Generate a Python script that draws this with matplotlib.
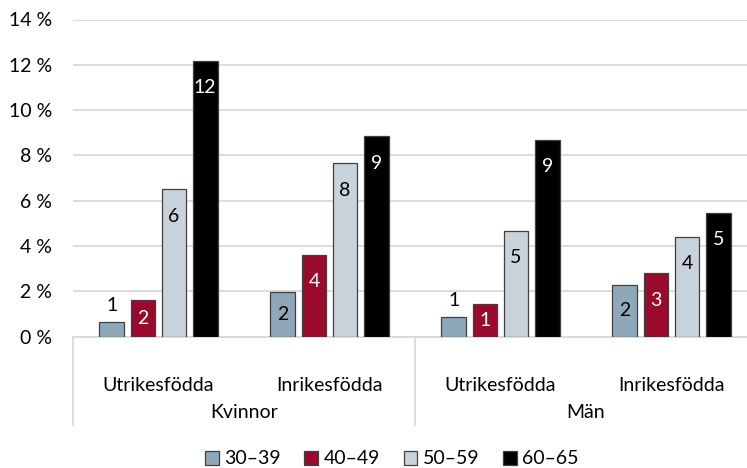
import matplotlib.pyplot as plt
import numpy as np

# ------------------------------------------------
# data
groups = ['Kvinnor', 'Män']
origins = ['Utrikesfödda', 'Inrikesfödda', 'Utrikesfödda', 'Inrikesfödda']
ages = ['30–39', '40–49', '50–59', '60–65']

v_30_39 = [0.65, 1.96, 0.85, 2.26]
v_40_49 = [1.61, 3.60, 1.42, 2.80]
v_50_59 = [6.50, 7.66, 4.67, 4.41]
v_60_65 = [12.18, 8.85, 8.68, 5.47]

lab_30_39 = ['1', '2', '1', '2']
lab_40_49 = ['2', '4', '1', '3']
lab_50_59 = ['6', '8', '5', '4']
lab_60_65 = ['12', '9', '9', '5']

series = [v_30_39, v_40_49, v_50_59, v_60_65]
labels = [lab_30_39, lab_40_49, lab_50_59, lab_60_65]
colors = ['#8FA8B9', '#990A2C', '#C9D3DC', '#000000']
txtcol = ['black', 'white', 'black', 'white']

plt.rcParams['font.family'] = ['Lato', 'DejaVu Sans']
FS = 14

fig = plt.figure(figsize=(7.47, 4.68), dpi=100)
ax = fig.add_axes([73/747, 131.5/468, 684/747, 317/468])

x = np.arange(len(origins))
width = 0.145
step = 0.182
px = 14 / 317.0  # data units per pixel

for i, vals in enumerate(series):
    pos = x + (i - 1.5) * step
    ax.bar(pos, vals, width, color=colors[i], edgecolor='#404040',
           linewidth=0.9, label=ages[i], zorder=3)
    for p, v, t in zip(pos, vals, labels[i]):
        if v < 1.0:
            # label sits above the short bar
            ax.text(p, v + 16.5 * px, t, ha='center', va='center',
                    fontsize=FS, color='black', zorder=4)
        else:
            y = max(v / 2, v - 27 * px)
            ax.text(p, y, t, ha='center', va='center',
                    fontsize=FS, color=txtcol[i], zorder=4)

ax.set_ylim(0, 14)
ax.set_xlim(-0.5, 3.5)
ax.set_yticks(np.arange(0, 15, 2))
ax.set_yticklabels(['{} %'.format(v) for v in range(0, 15, 2)], fontsize=FS)
ax.yaxis.grid(True, color='#D9D9D9', linewidth=1.3, zorder=0)
ax.tick_params(axis='y', length=0, pad=15)

for s in ['left', 'right', 'top']:
    ax.spines[s].set_visible(False)
ax.spines['bottom'].set_color('#D9D9D9')
ax.spines['bottom'].set_linewidth(1.3)

ax.set_xticks(x)
ax.set_xticklabels(origins, fontsize=FS)
ax.tick_params(axis='x', length=0, pad=29)

# category separators and outer labels
for xs in [0.0, 0.5, 1.0]:
    ax.plot([xs, xs], [0, -88.5 / 317], transform=ax.transAxes,
            color='#D9D9D9', linewidth=1.3, clip_on=False)
for j, g in enumerate(groups):
    ax.text(0.25 + 0.5 * j, -76 / 317, g, transform=ax.transAxes,
            ha='center', va='center', fontsize=FS)

fig.legend(loc='center', bbox_to_anchor=(392/747, 1 - 459/468), ncol=4,
           frameon=False, fontsize=FS, handlelength=0.7, handleheight=0.7,
           handletextpad=0.3, columnspacing=1.2, borderaxespad=0,
           borderpad=0)

plt.savefig('out.png', dpi=100)
